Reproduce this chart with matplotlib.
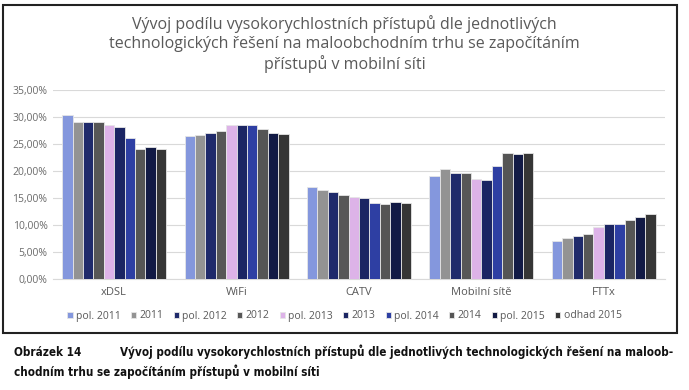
import matplotlib
matplotlib.use("Agg")
import matplotlib.pyplot as plt
import numpy as np
from matplotlib.patches import Rectangle

categories = ["xDSL", "WiFi", "CATV", "Mobilní sítě", "FTTx"]
series_names = ["pol. 2011", "2011", "pol. 2012", "2012", "pol. 2013",
                "2013", "pol. 2014", "2014", "pol. 2015", "odhad 2015"]
values = {
    "pol. 2011":  [30.4, 26.5, 17.1, 19.1, 7.0],
    "2011":       [29.1, 26.6, 16.4, 20.4, 7.6],
    "pol. 2012":  [29.1, 27.1, 16.2, 19.7, 8.0],
    "2012":       [29.1, 27.5, 15.5, 19.6, 8.3],
    "pol. 2013":  [28.5, 28.6, 15.1, 18.5, 9.6],
    "2013":       [28.1, 28.6, 15.0, 18.4, 10.2],
    "pol. 2014":  [26.2, 28.6, 14.0, 21.0, 10.2],
    "2014":       [24.1, 27.8, 13.8, 23.4, 11.0],
    "pol. 2015":  [24.4, 27.0, 14.2, 23.1, 11.5],
    "odhad 2015": [24.1, 26.8, 14.1, 23.3, 12.0],
}
colors = ["#8497DD", "#939393", "#1F2A6B", "#575757", "#DDB3E8",
          "#1B2563", "#2E3FA3", "#555555", "#121A45", "#363636"]
yticks = [0, 5, 10, 15, 20, 25, 30, 35]
title = ("Vývoj podílu vysokorychlostních přístupů dle jednotlivých\n"
         "technologických řešení na maloobchodním trhu se započítáním\n"
         "přístupů v mobilní síti")
caption_label = "Obrázek 14"
caption_line1 = ("Vývoj podílu vysokorychlostních přístupů dle jednotlivých "
                 "technologických řešení na maloob-")
caption_line2 = "chodním trhu se započítáním přístupů v mobilní síti"

plt.rcParams['font.family'] = ['Open Sans', 'DejaVu Sans']

fig = plt.figure(figsize=(6.89, 3.90), dpi=100)
ax = fig.add_axes([53/689, 1-279/390, (665-53)/689, (279-90)/390])

n = len(series_names)
x = np.arange(len(categories))
group_w = 0.85
bw = group_w / n
for i, name in enumerate(series_names):
    offs = -group_w/2 + bw*(i+0.5)
    ax.bar(x + offs, values[name], width=bw, color=colors[i],
           edgecolor="#e6e6e6", linewidth=0.6, label=name, zorder=3)

ax.set_xlim(-0.5, len(categories)-0.5)
ax.set_ylim(0, 35)
ax.set_yticks(yticks)
ax.set_yticklabels([f"{v:.2f}%".replace(".", ",") for v in yticks],
                   fontsize=7.5, color="#6b6b6b")
ax.set_xticks(x)
ax.set_xticklabels(categories, fontsize=8, color="#595959")
ax.tick_params(axis="both", length=0, pad=4)
ax.tick_params(axis="x", pad=6)
ax.grid(axis="y", color="#d9d9d9", linewidth=0.8, zorder=0)
for s in ["top", "right", "left"]:
    ax.spines[s].set_visible(False)
ax.spines["bottom"].set_color("#d9d9d9")

leg = fig.legend(loc="center", bbox_to_anchor=(0.5, 1-316/390), ncol=10,
                 frameon=False, fontsize=7.5, handlelength=0.5, handleheight=0.5,
                 handletextpad=0.3, columnspacing=1.0, labelcolor="#595959")

fig.text(0.5, 1-44/390, title, ha="center", va="center", fontsize=11.5,
         color="#595959", linespacing=1.25)

# frame around chart
fig.patches.append(Rectangle((3/689, 1-333/390), (677-3)/689, (333-5)/390,
                             transform=fig.transFigure, fill=False,
                             edgecolor="#222222", linewidth=1.5))

cap_kw = dict(ha="left", va="center", fontweight="bold", color="#111111",
              family=["DejaVu Sans"], stretch="condensed")
t0 = fig.text(14/689, 1-352/390, caption_label, fontsize=9, **cap_kw)
t1 = fig.text(120/689, 1-352/390, caption_line1, fontsize=9, **cap_kw)
t2 = fig.text(14/689, 1-372/390, caption_line2, fontsize=9, **cap_kw)

# fit caption widths to the reference layout
fig.canvas.draw()
r = fig.canvas.get_renderer()
w1 = t1.get_window_extent(r).width
fs = 9 * (676 - 120) / w1
for t in (t0, t1, t2):
    t.set_fontsize(fs)

fig.savefig("out.png", dpi=100)
